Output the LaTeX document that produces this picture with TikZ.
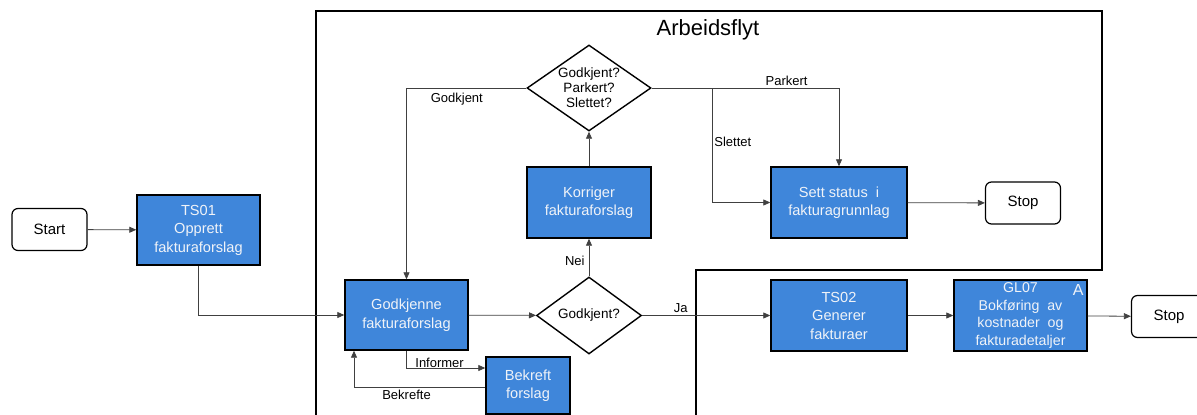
\documentclass[tikz,border=0pt]{standalone}
\usepackage{fontspec}
\setmainfont{Liberation Sans}
\usetikzlibrary{positioning,arrows.meta,shapes.geometric}
\definecolor{taskblue}{HTML}{3F86DA}
\definecolor{tasktext}{HTML}{F0F3F8}
\definecolor{wire}{HTML}{404040}

\begin{document}
\begin{tikzpicture}[
  x=1pt, y=-1pt,
  every node/.style={font=\fontsize{14.6}{18.5}\selectfont, align=center, inner sep=1pt},
  taskbox/.style={draw=black, line width=1.4pt, fill=taskblue, text=tasktext, minimum width=#1},
  taskbox/.default=123pt,
  decision/.style={diamond, draw=black, line width=1.4pt, fill=white, aspect=1.45, inner sep=0pt,
    font=\fontsize{13.5}{15}\selectfont},
  terminal/.style={draw=black, line width=1.2pt, rounded corners=6pt, fill=white, minimum width=75pt, minimum height=42pt,
    font=\fontsize{15}{18}\selectfont},
  flow/.style={draw=wire, line width=0.8pt, -{Triangle[length=7pt,width=6pt]}},
  edgelbl/.style={font=\fontsize{13}{15}\selectfont, text=black}
]
  \useasboundingbox (0,0) rectangle (1197,415);

  % frame
  \draw[line width=1.4pt] (316,415) -- (316,11) -- (1102,11) -- (1102,270) -- (696,270) -- (696,415);
  \node[font=\fontsize{22}{25}\selectfont] (title) at (708,30) {Arbeidsflyt};

  % nodes
  \node[terminal] (start) at (49.5,229.5) {Start};
  \node[taskbox, minimum height=70pt] (ts01) at (198.5,230) {TS01\\Opprett\\fakturaforslag};
  \node[taskbox, minimum height=70pt] (godkjenne) at (406.5,315) {Godkjenne\\fakturaforslag};
  \node[decision, minimum width=124pt, minimum height=86pt] (check) at (589,88) {Godkjent?\\Parkert?\\Slettet?};
  \node[taskbox=124pt, minimum height=71pt] (korriger) at (589,202.5) {Korriger\\fakturaforslag};
  \node[decision, minimum width=105pt, minimum height=77pt] (approved) at (589,315.5) {Godkjent?};
  \node[taskbox=136pt, minimum height=71pt] (status) at (839,202.5) {Sett status~~i\\fakturagrunnlag};
  \node[terminal] (stopa) at (1023,203) {Stop};
  \node[taskbox=136pt, minimum height=71pt] (ts02) at (839,315.5) {TS02\\Generer\\fakturaer};
  \node[taskbox=133pt, minimum height=71pt, font=\fontsize{14.2}{17.6}\selectfont] (gl07) at (1020.5,315.5) {GL07\\Bokføring~~av\\kostnader~~og\\fakturadetaljer};
  \node[text=tasktext, anchor=north east, inner xsep=4pt, inner ysep=5pt, font=\fontsize{16}{18}\selectfont] (gla) at (gl07.north east) {A};
  \node[terminal] (stopb) at (1169,316.5) {Stop};
  \node[taskbox=84pt, minimum height=57pt] (bekreft) at (528,385.5) {Bekreft\\forslag};

  % connectors
  \draw[flow] (start) -- (ts01);
  \draw[flow] (ts01.south) |- (godkjenne.west);
  \draw[flow] (godkjenne) -- (approved);
  \draw[flow] (approved) -- node[edgelbl, left=3pt, pos=0.4] {Nei} (korriger);
  \draw[flow] (korriger) -- (check);
  \draw[flow] (check.west) -| node[edgelbl, pos=0.29, below=4pt] {Godkjent} (godkjenne.north);
  \draw[flow] (check.east) -| node[edgelbl, pos=0.36, above=1pt] {Parkert} (status.north);
  \coordinate (split) at (712,88);
  \draw[flow] (split) |- node[edgelbl, pos=0.235, right=1pt] {Slettet} (status.west);
  \draw[flow] (status) -- (stopa);
  \draw[flow] (approved) -- node[edgelbl, pos=0.3, above=1pt] {Ja} (ts02);
  \draw[flow] (ts02) -- (gl07);
  \draw[flow] (gl07) -- (stopb);
  \draw[flow] (godkjenne.south) |- node[edgelbl, pos=0.71, above=-1pt] {Informer} (bekreft.west |- 0,368);
  \draw[flow] (bekreft.west |- 0,387) -| node[edgelbl, pos=0.3, below=2pt] {Bekrefte} (godkjenne.south west -| 354,0);
\end{tikzpicture}
\end{document}
